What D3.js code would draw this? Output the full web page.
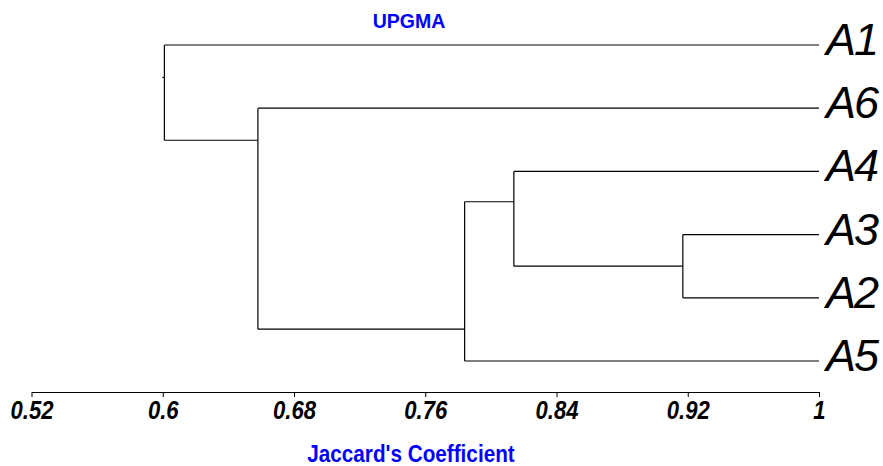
<!DOCTYPE html>
<html>
    <head>
        <meta charset='utf-8'>
        <script src="https://d3js.org/d3.v7.min.js"></script>
        <style>
            body { margin: 0; background: #fff; }
            .branch { fill: none; stroke: #000; stroke-width: 1.2; }
            .leaf-label { font-family: "Liberation Sans", Arial, sans-serif; font-style: italic; font-size: 45px; letter-spacing: -2px; }
            .tick text { font-family: "Liberation Sans", Arial, sans-serif; font-weight: bold; font-style: italic; font-size: 26px; fill: #000; }
            .blue { font-family: "Liberation Sans", Arial, sans-serif; font-weight: bold; fill: #0000ff; }
        </style>
    </head>
    <body>
        <script>

            var width = 883, height = 466;

            // leaves, top to bottom
            var leaves = ["A1", "A6", "A4", "A3", "A2", "A5"];

            // merges, in the order they happen
            var nodeIds    = ["C1", "C2", "C3", "C4", "C5"];
            var leftChild  = ["A3", "A4", "C2", "A6", "A1"];
            var rightChild = ["A2", "C1", "A5", "C3", "C4"];
            var joinLevel  = [0.917, 0.814, 0.784, 0.658, 0.601];
            // where the stem leaves the vertical bar (0 = top child, 1 = bottom child)
            var stemFraction = [0.5, 0.32, 0.80, 0.145, 0.34];

            var tickValues = [0.52, 0.6, 0.68, 0.76, 0.84, 0.92, 1];
            var tickLabels = ["0.52", "0.6", "0.68", "0.76", "0.84", "0.92", "1"];

            var svg = d3.select('body')
                        .append('svg')
                        .attr('width', width)
                        .attr('height', height);

            var x = d3.scaleLinear()
                .domain([0.52, 1])
                .range([31.5, 819]);

            var y = d3.scalePoint()
                .domain(leaves)
                .range([45, 361]);

            // position of every node: leaves sit at 1, clusters at their level
            var pos = {};
            leaves.forEach(function(l) { pos[l] = {x: x(1), y: y(l)}; });

            nodeIds.forEach(function(id, i) {
                var a = pos[leftChild[i]], b = pos[rightChild[i]];
                var top = Math.min(a.y, b.y), bot = Math.max(a.y, b.y);
                var xj = x(joinLevel[i]);
                pos[id] = {x: xj, y: top + stemFraction[i] * (bot - top)};

                // horizontal arms to each child
                [a, b].forEach(function(c) {
                    svg.append("line").attr("class", "branch")
                        .attr("x1", xj).attr("x2", c.x)
                        .attr("y1", c.y).attr("y2", c.y);
                });
                // vertical bar
                svg.append("line").attr("class", "branch")
                    .attr("x1", xj).attr("x2", xj)
                    .attr("y1", top).attr("y2", bot);
            });

            // tiny stub for the root
            var root = pos[nodeIds[nodeIds.length - 1]];
            svg.append("line").attr("class", "branch")
                .attr("x1", root.x - 2).attr("x2", root.x)
                .attr("y1", root.y).attr("y2", root.y);

            svg.selectAll(".leaf-label")
                .data(leaves)
                .enter()
                .append("text")
                .attr("class", "leaf-label")
                .attr("x", x(1) + 7)
                .attr("y", function(d) { return y(d) + 10; })
                .text(function(d) { return d; });

            var axis = d3.axisBottom(x)
                .tickValues(tickValues)
                .tickFormat(function(d, i) { return tickLabels[i]; })
                .tickSize(5)
                .tickSizeOuter(0);

            var gx = svg.append("g")
                .attr("transform", "translate(0,392)")
                .call(axis);
            gx.select(".domain").attr("stroke", "#000").attr("stroke-width", 1.2);
            gx.selectAll(".tick line").attr("stroke", "#000");
            gx.selectAll(".tick text")
                .attr("y", 9)
                .attr("transform", "scale(0.85,1)");

            svg.append("text")
                .attr("class", "blue")
                .attr("x", 409)
                .attr("y", 28)
                .attr("text-anchor", "middle")
                .style("font-size", "19.5px")
                .text("UPGMA");

            svg.append("text")
                .attr("class", "blue")
                .attr("text-anchor", "middle")
                .attr("transform", "translate(411,462) scale(0.9,1)")
                .style("font-size", "23px")
                .text("Jaccard's Coefficient");

        </script>
    </body>
</html>
